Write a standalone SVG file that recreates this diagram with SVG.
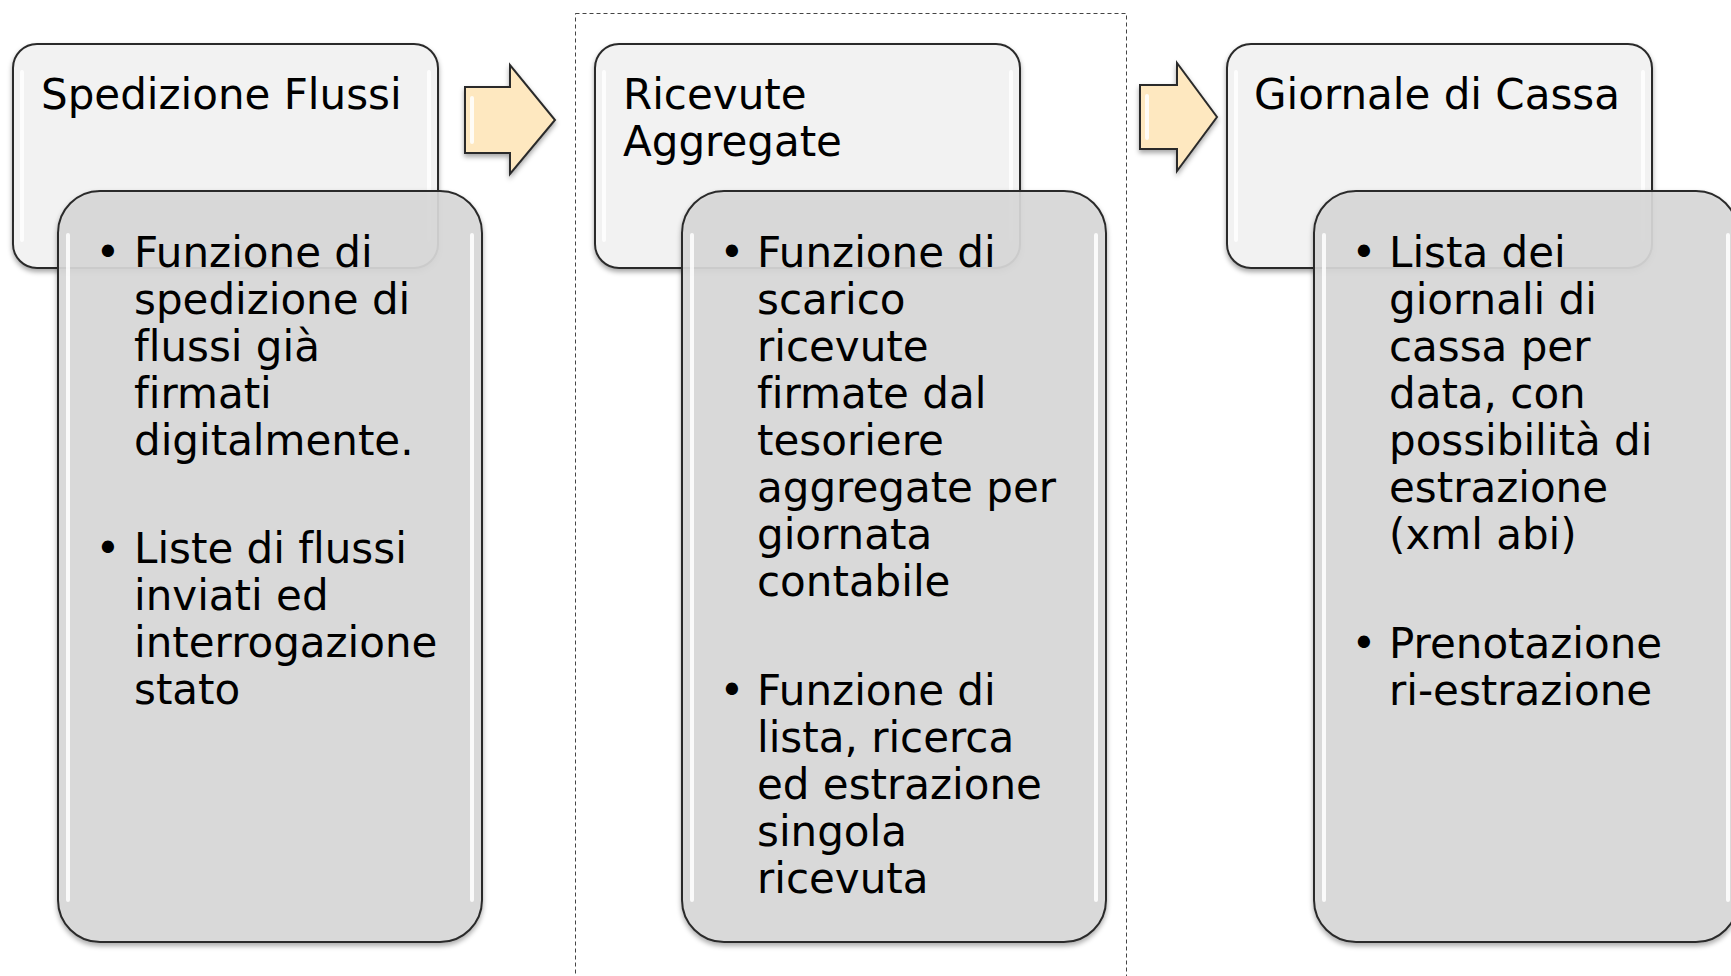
<svg xmlns="http://www.w3.org/2000/svg" width="1731" height="976" viewBox="0 0 1731 976">
<defs>
<style>
.title{fill:#f2f2f2;stroke:#2b2b2b;stroke-width:2}
.body{fill:#d9d9d9;fill-opacity:0.9;stroke:#2b2b2b;stroke-width:2}
.hl{fill:none;stroke:#ffffff;stroke-width:4;stroke-linecap:round;opacity:0.85}
.arrow{fill:#fee8c0;stroke:#2b2b2b;stroke-width:2;stroke-linejoin:miter}
.t{font-family:"DejaVu Sans","Liberation Sans",sans-serif;font-size:42px;fill:#000;font-variant-ligatures:none}
</style>
<filter id="sh" x="-10%" y="-10%" width="120%" height="120%">
<feDropShadow dx="0" dy="3" stdDeviation="2.5" flood-color="#000" flood-opacity="0.35"/>
</filter>
</defs>
<rect x="575.5" y="13.5" width="551" height="1000" fill="none" stroke="#444" stroke-width="1" stroke-dasharray="4 3"/>
<g id="connectors">
<path class="arrow" filter="url(#sh)" d="M465,87 L510,87 L510,65 L555,120 L510,174 L510,153 L465,153 Z"/>
<path class="hl" d="M472,98 L472,142" stroke-width="3" opacity="0.7"/>
<path class="arrow" filter="url(#sh)" d="M1140,85 L1177,85 L1177,63 L1217,117 L1177,171 L1177,149 L1140,149 Z"/>
<path class="hl" d="M1147,96 L1147,138" stroke-width="3" opacity="0.7"/>
</g>
<g id="node1">
<rect class="title" filter="url(#sh)" x="13" y="44" width="425" height="224" rx="24"/>
<path class="hl" d="M22,72 L22,240 M429,72 L429,240"/>
<text class="t" x="41" y="109">Spedizione Flussi</text>
<rect class="body" filter="url(#sh)" x="58" y="191" width="424" height="751" rx="42"/>
<path class="hl" d="M68,235 L68,900 M472,235 L472,900"/>
<text class="t" x="108" y="267" text-anchor="middle">•</text>
<text class="t"><tspan x="134" y="267">Funzione di</tspan><tspan x="134" y="314">spedizione di</tspan><tspan x="134" y="361">flussi già</tspan><tspan x="134" y="408">firmati</tspan><tspan x="134" y="455">digitalmente.</tspan></text>
<text class="t" x="108" y="563" text-anchor="middle">•</text>
<text class="t"><tspan x="134" y="563">Liste di flussi</tspan><tspan x="134" y="610">inviati ed</tspan><tspan x="134" y="657">interrogazione</tspan><tspan x="134" y="704">stato</tspan></text>
</g>
<g id="node2">
<rect class="title" filter="url(#sh)" x="595" y="44" width="425" height="224" rx="24"/>
<path class="hl" d="M604,72 L604,240 M1011,72 L1011,240"/>
<text class="t"><tspan x="623" y="109">Ricevute</tspan><tspan x="623" y="156">Aggregate</tspan></text>
<rect class="body" filter="url(#sh)" x="682" y="191" width="424" height="751" rx="42"/>
<path class="hl" d="M692,235 L692,900 M1096,235 L1096,900"/>
<text class="t" x="732" y="267" text-anchor="middle">•</text>
<text class="t"><tspan x="757" y="267">Funzione di</tspan><tspan x="757" y="314">scarico</tspan><tspan x="757" y="361">ricevute</tspan><tspan x="757" y="408">firmate dal</tspan><tspan x="757" y="455">tesoriere</tspan><tspan x="757" y="502">aggregate per</tspan><tspan x="757" y="549">giornata</tspan><tspan x="757" y="596">contabile</tspan></text>
<text class="t" x="732" y="705" text-anchor="middle">•</text>
<text class="t"><tspan x="757" y="705">Funzione di</tspan><tspan x="757" y="752">lista, ricerca</tspan><tspan x="757" y="799">ed estrazione</tspan><tspan x="757" y="846">singola</tspan><tspan x="757" y="893">ricevuta</tspan></text>
</g>
<g id="node3">
<rect class="title" filter="url(#sh)" x="1227" y="44" width="425" height="224" rx="24"/>
<path class="hl" d="M1236,72 L1236,240 M1643,72 L1643,240"/>
<text class="t" x="1254" y="109">Giornale di Cassa</text>
<rect class="body" filter="url(#sh)" x="1314" y="191" width="424" height="751" rx="42"/>
<path class="hl" d="M1324,235 L1324,900 M1728,235 L1728,900"/>
<text class="t" x="1364" y="267" text-anchor="middle">•</text>
<text class="t"><tspan x="1389" y="267">Lista dei</tspan><tspan x="1389" y="314">giornali di</tspan><tspan x="1389" y="361">cassa per</tspan><tspan x="1389" y="408">data, con</tspan><tspan x="1389" y="455">possibilità di</tspan><tspan x="1389" y="502">estrazione</tspan><tspan x="1389" y="549">(xml abi)</tspan></text>
<text class="t" x="1364" y="658" text-anchor="middle">•</text>
<text class="t"><tspan x="1389" y="658">Prenotazione</tspan><tspan x="1389" y="705">ri-estrazione</tspan></text>
</g>
</svg>
